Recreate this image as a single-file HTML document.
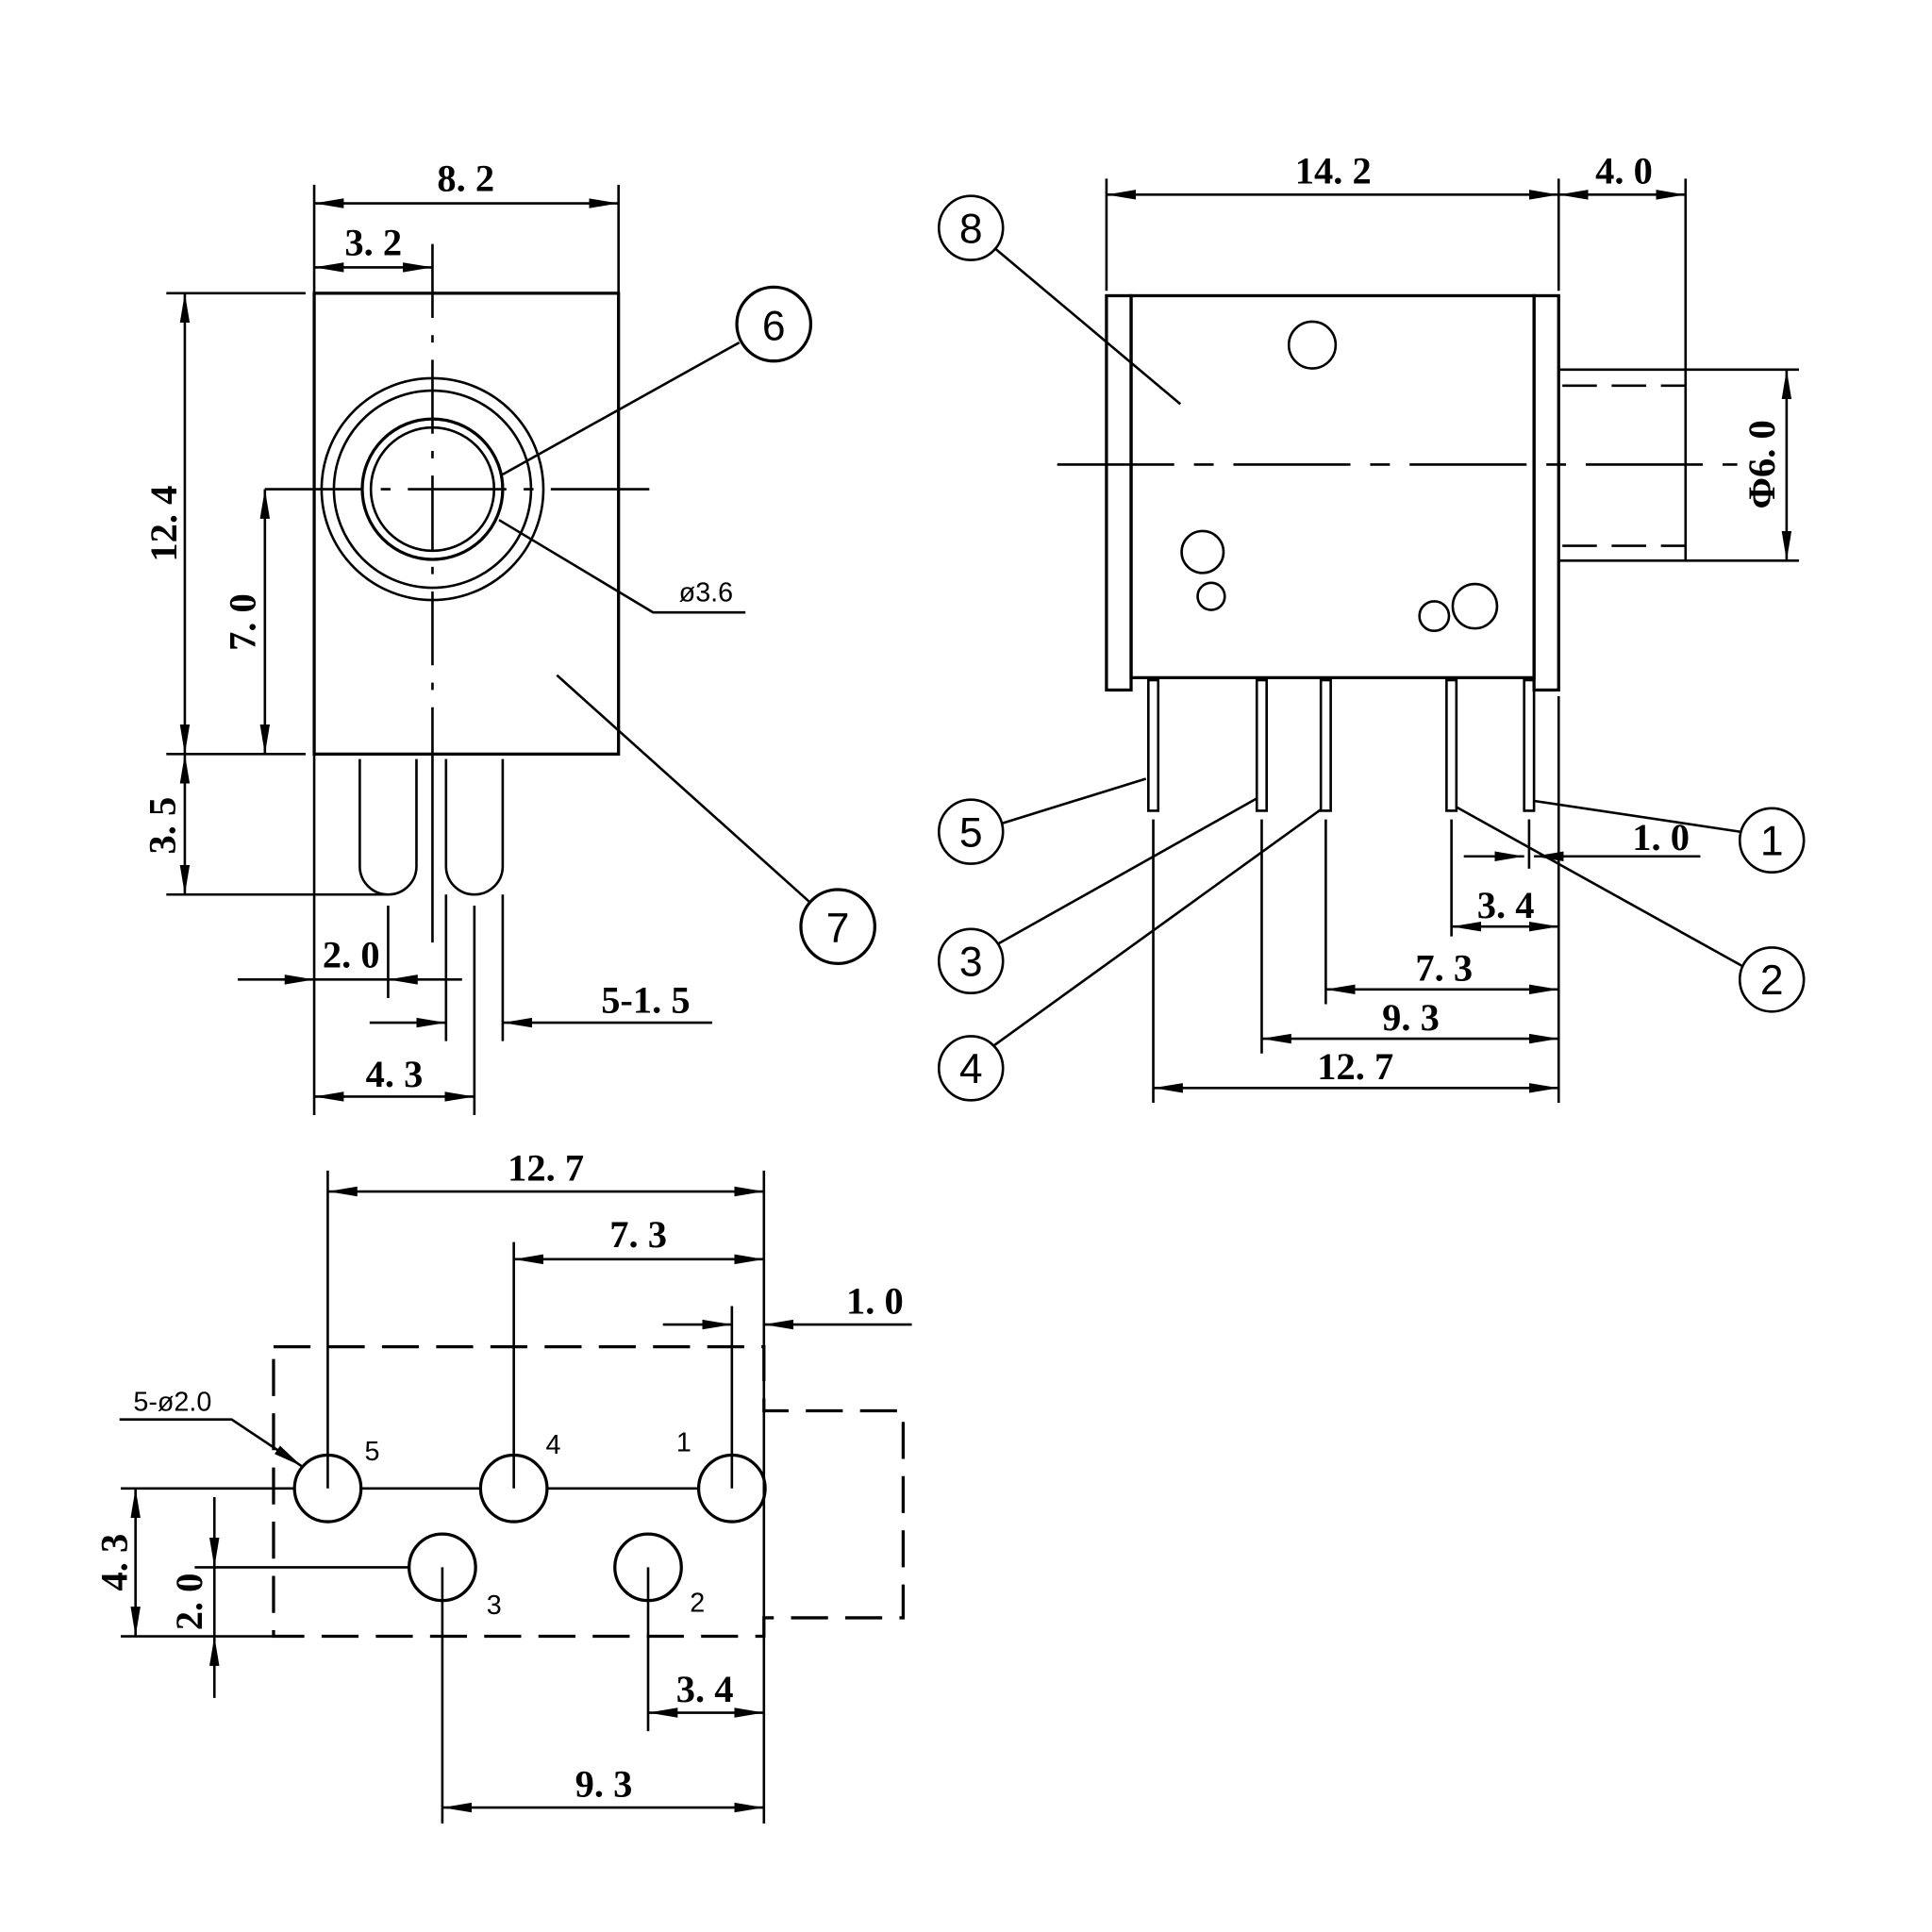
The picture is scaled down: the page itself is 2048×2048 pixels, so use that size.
<!DOCTYPE html>
<html><head><meta charset="utf-8"><style>
html,body{margin:0;padding:0;background:#fff}
svg{display:block}
.t{font-family:"Liberation Serif",serif;font-weight:bold;font-size:31px;fill:#000;text-anchor:middle}
.s{font-family:"Liberation Sans",sans-serif;font-size:22px;fill:#000;text-anchor:middle}
.c{font-family:"Liberation Sans",sans-serif;font-size:34px;fill:#000;text-anchor:middle}
</style></head><body>
<svg width="2048" height="2048" viewBox="0 0 1568 1568" xmlns="http://www.w3.org/2000/svg">
<defs>
<marker id="a" viewBox="0 0 24 10" refX="24" refY="5" markerWidth="24" markerHeight="10" markerUnits="userSpaceOnUse" orient="auto-start-reverse"><path d="M0,1 L24,5 L0,9 Z" fill="#000"/></marker>
</defs>
<g stroke="#000" stroke-width="2" fill="none">
<!-- LEFT VIEW -->
<rect x="255" y="238" width="247" height="374" stroke-width="2.5"/>
<line x1="255" y1="150" x2="255" y2="238"/><line x1="502" y1="150" x2="502" y2="238"/>
<line x1="255" y1="165" x2="502" y2="165" marker-start="url(#a)" marker-end="url(#a)"/>
<line x1="255" y1="217" x2="351" y2="217" marker-start="url(#a)" marker-end="url(#a)"/>
<line x1="351" y1="198" x2="351" y2="612" stroke-dasharray="60,14,6,14"/>
<line x1="351" y1="612" x2="351" y2="765"/>
<circle cx="351" cy="397" r="90"/><circle cx="351" cy="397" r="80"/>
<circle cx="351" cy="397" r="57" stroke-width="2.5"/><circle cx="351" cy="397" r="50"/>
<line x1="215" y1="397" x2="537" y2="397" stroke-dasharray="80,14,8,14"/>
<line x1="135" y1="238" x2="248" y2="238"/><line x1="135" y1="612" x2="248" y2="612"/>
<line x1="150" y1="238" x2="150" y2="612" marker-start="url(#a)" marker-end="url(#a)"/>
<line x1="215" y1="397" x2="215" y2="612" marker-start="url(#a)" marker-end="url(#a)"/>
<line x1="150" y1="612" x2="150" y2="726" marker-start="url(#a)" marker-end="url(#a)"/>
<line x1="135" y1="726" x2="315" y2="726"/>
<path d="M292,616 V703 A23,23 0 0 0 338,703 V616"/>
<path d="M362,616 V703 A23,23 0 0 0 408,703 V616"/>
<line x1="408" y1="385" x2="600" y2="278"/>
<circle cx="628" cy="263" r="30" stroke-width="2.5"/>
<path d="M405,422 L530,497 L605,497"/>
<line x1="452" y1="548" x2="657" y2="732"/>
<circle cx="680" cy="752" r="30" stroke-width="2.5"/>
<line x1="193" y1="795" x2="255" y2="795" marker-end="url(#a)"/>
<line x1="375" y1="795" x2="315" y2="795" marker-end="url(#a)"/>
<line x1="255" y1="795" x2="315" y2="795"/>
<line x1="315" y1="735" x2="315" y2="810"/>
<line x1="300" y1="830" x2="362" y2="830" marker-end="url(#a)"/>
<line x1="578" y1="830" x2="408" y2="830" marker-end="url(#a)"/>
<line x1="362" y1="726" x2="362" y2="845"/><line x1="408" y1="726" x2="408" y2="845"/>
<line x1="255" y1="612" x2="255" y2="905"/><line x1="385" y1="735" x2="385" y2="905"/>
<line x1="255" y1="890" x2="385" y2="890" marker-start="url(#a)" marker-end="url(#a)"/>

<!-- RIGHT VIEW -->
<rect x="918" y="240" width="327" height="310" stroke-width="2.5"/>
<rect x="898" y="240" width="20" height="320" stroke-width="2.5"/>
<rect x="1245" y="240" width="20" height="320" stroke-width="2.5"/>
<line x1="1265" y1="300" x2="1460" y2="300"/><line x1="1265" y1="455" x2="1460" y2="455"/>
<line x1="1368" y1="300" x2="1368" y2="455"/>
<line x1="1268" y1="313" x2="1368" y2="313" stroke-dasharray="28,12"/>
<line x1="1268" y1="443" x2="1368" y2="443" stroke-dasharray="28,12"/>
<line x1="858" y1="377" x2="1410" y2="377" stroke-dasharray="95,16,16,16"/>
<circle cx="1065" cy="280" r="19"/><circle cx="976" cy="448" r="17"/><circle cx="983" cy="484" r="11"/>
<circle cx="1197" cy="492" r="18"/><circle cx="1164" cy="500" r="12"/>
<rect x="932" y="552" width="8" height="106"/><rect x="1020" y="552" width="8" height="106"/>
<rect x="1072" y="552" width="8" height="106"/><rect x="1174" y="552" width="8" height="106"/>
<rect x="1237" y="552" width="8" height="106"/>
<line x1="898" y1="145" x2="898" y2="236"/><line x1="1265" y1="145" x2="1265" y2="236"/><line x1="1368" y1="145" x2="1368" y2="300"/>
<line x1="898" y1="158" x2="1265" y2="158" marker-start="url(#a)" marker-end="url(#a)"/>
<line x1="1265" y1="158" x2="1368" y2="158" marker-start="url(#a)" marker-end="url(#a)"/>
<line x1="1450" y1="300" x2="1450" y2="455" marker-start="url(#a)" marker-end="url(#a)"/>
<line x1="1188" y1="695" x2="1237" y2="695" marker-end="url(#a)"/>
<line x1="1380" y1="695" x2="1245" y2="695" marker-end="url(#a)"/>
<line x1="1241" y1="665" x2="1241" y2="705"/>
<line x1="1178" y1="752" x2="1265" y2="752" marker-start="url(#a)" marker-end="url(#a)"/>
<line x1="1076" y1="803" x2="1265" y2="803" marker-start="url(#a)" marker-end="url(#a)"/>
<line x1="1024" y1="843" x2="1265" y2="843" marker-start="url(#a)" marker-end="url(#a)"/>
<line x1="936" y1="883" x2="1265" y2="883" marker-start="url(#a)" marker-end="url(#a)"/>
<line x1="1265" y1="565" x2="1265" y2="895"/><line x1="936" y1="665" x2="936" y2="895"/>
<line x1="1024" y1="665" x2="1024" y2="855"/><line x1="1076" y1="665" x2="1076" y2="815"/>
<line x1="1178" y1="665" x2="1178" y2="760"/>
<circle cx="788" cy="185" r="26"/><line x1="808" y1="202" x2="958" y2="328"/>
<circle cx="788" cy="675" r="26"/><line x1="814" y1="668" x2="930" y2="632"/>
<circle cx="788" cy="780" r="26"/><line x1="810" y1="766" x2="1020" y2="648"/>
<circle cx="788" cy="867" r="26"/><line x1="806" y1="849" x2="1072" y2="657"/>
<circle cx="1438" cy="682" r="26"/><line x1="1245" y1="650" x2="1412" y2="675"/>
<circle cx="1438" cy="795" r="26"/><line x1="1182" y1="655" x2="1414" y2="784"/>

<!-- BOTTOM VIEW -->
<path d="M222,1093 H620 V1145 H733 V1313 H620 V1328 H222 Z" stroke-dasharray="30,14" stroke-width="2.5"/>
<line x1="98" y1="1208" x2="594" y2="1208"/>
<line x1="158" y1="1272" x2="359" y2="1272"/>
<circle cx="266" cy="1208" r="27" fill="#fff" stroke-width="2.5"/><circle cx="417" cy="1208" r="27" fill="#fff" stroke-width="2.5"/>
<circle cx="594" cy="1208" r="27" fill="#fff" stroke-width="2.5"/><circle cx="359" cy="1272" r="27" fill="#fff" stroke-width="2.5"/>
<circle cx="526" cy="1272" r="27" fill="#fff" stroke-width="2.5"/>
<line x1="266" y1="950" x2="266" y2="1208"/><line x1="620" y1="950" x2="620" y2="1480"/>
<line x1="417" y1="1008" x2="417" y2="1208"/><line x1="594" y1="1060" x2="594" y2="1208"/>
<line x1="266" y1="967" x2="620" y2="967" marker-start="url(#a)" marker-end="url(#a)"/>
<line x1="417" y1="1022" x2="620" y2="1022" marker-start="url(#a)" marker-end="url(#a)"/>
<line x1="538" y1="1075" x2="594" y2="1075" marker-end="url(#a)"/>
<line x1="740" y1="1075" x2="620" y2="1075" marker-end="url(#a)"/>
<line x1="98" y1="1328" x2="222" y2="1328"/>
<line x1="110" y1="1208" x2="110" y2="1328" marker-start="url(#a)" marker-end="url(#a)"/>
<line x1="174" y1="1215" x2="174" y2="1272" marker-end="url(#a)"/>
<line x1="174" y1="1378" x2="174" y2="1328" marker-end="url(#a)"/>
<line x1="174" y1="1272" x2="174" y2="1328"/>
<line x1="526" y1="1272" x2="526" y2="1405"/><line x1="359" y1="1272" x2="359" y2="1480"/>
<line x1="526" y1="1390" x2="620" y2="1390" marker-start="url(#a)" marker-end="url(#a)"/>
<line x1="359" y1="1467" x2="620" y2="1467" marker-start="url(#a)" marker-end="url(#a)"/>
<path d="M97,1152 H188 L245,1190" marker-end="url(#a)"/>
</g>
<!-- text -->
<text class="t" x="378" y="155">8. 2</text>
<text class="t" x="303" y="207">3. 2</text>
<text class="t" transform="translate(143,425) rotate(-90)">12. 4</text>
<text class="t" transform="translate(207,505) rotate(-90)">7. 0</text>
<text class="t" transform="translate(142,670) rotate(-90)">3. 5</text>
<text class="t" x="285" y="785">2. 0</text>
<text class="t" x="524" y="822">5-1. 5</text>
<text class="t" x="320" y="882">4. 3</text>
<text class="c" x="628" y="276">6</text>
<text class="c" x="680" y="765">7</text>
<text class="s" x="573" y="488">ø3.6</text>
<text class="t" x="1082" y="149">14. 2</text>
<text class="t" x="1318" y="149">4. 0</text>
<text class="t" transform="translate(1440,377) rotate(-90)">Φ6. 0</text>
<text class="t" x="1348" y="690">1. 0</text>
<text class="t" x="1222" y="745">3. 4</text>
<text class="t" x="1172" y="796">7. 3</text>
<text class="t" x="1145" y="836">9. 3</text>
<text class="t" x="1100" y="876">12. 7</text>
<text class="c" x="788" y="197">8</text>
<text class="c" x="788" y="687">5</text>
<text class="c" x="788" y="792">3</text>
<text class="c" x="788" y="879">4</text>
<text class="c" x="1438" y="694">1</text>
<text class="c" x="1438" y="807">2</text>
<text class="t" x="443" y="958">12. 7</text>
<text class="t" x="518" y="1012">7. 3</text>
<text class="t" x="710" y="1066">1. 0</text>
<text class="t" transform="translate(103,1268) rotate(-90)">4. 3</text>
<text class="t" transform="translate(164,1300) rotate(-90)">2. 0</text>
<text class="t" x="572" y="1381">3. 4</text>
<text class="t" x="490" y="1458">9. 3</text>
<text class="s" x="140" y="1145">5-ø2.0</text>
<text class="s" x="302" y="1185">5</text>
<text class="s" x="449" y="1180">4</text>
<text class="s" x="555" y="1178">1</text>
<text class="s" x="401" y="1310">3</text>
<text class="s" x="566" y="1308">2</text>
</svg>
</body></html>
